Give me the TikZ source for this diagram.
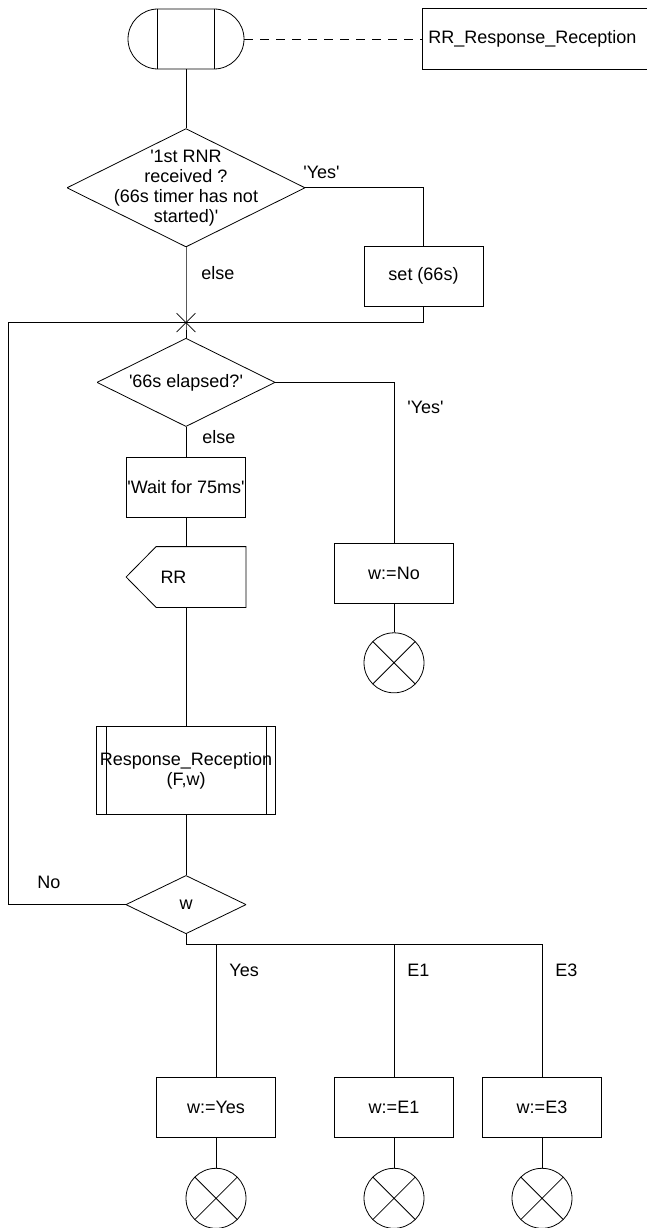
\documentclass[tikz,border=0pt]{standalone}
\usepackage{fontspec}
\setmainfont{Liberation Sans}
\usepackage{tikz}
\usetikzlibrary{positioning,shapes.misc}
\newcommand{\sq}{\textquotesingle}

\tikzset{
  startbox/.style={draw, rounded rectangle, minimum width=116pt, minimum height=60pt, inner sep=0},
  task/.style={draw, rectangle, minimum width=119pt, minimum height=60pt, inner sep=0, align=center},
  decision/.style={rectangle, inner sep=0, align=center,
    path picture={\draw (path picture bounding box.north) -- (path picture bounding box.east)
      -- (path picture bounding box.south) -- (path picture bounding box.west) -- cycle;}},
  stopnode/.style={draw, circle, minimum size=60pt, inner sep=0,
    path picture={\draw (path picture bounding box.north west) -- (path picture bounding box.south east)
      (path picture bounding box.north east) -- (path picture bounding box.south west);}},
  lbl/.style={anchor=west, inner sep=0},
}

\begin{document}
\begin{tikzpicture}[x=1pt, y=1pt, line width=0.8pt, font=\fontsize{18}{20}\selectfont]
  \useasboundingbox (0,0) rectangle (646,-1228);

  % start and procedure name
  \node[startbox] (start) at (186,-39) {};
  \draw ([xshift=-28.5pt]start.north) -- ([xshift=-28.5pt]start.south);
  \draw ([xshift=28.5pt]start.north) -- ([xshift=28.5pt]start.south);
  \node[anchor=west, minimum width=300pt, minimum height=60pt, text width=288pt,
        align=left, inner sep=6pt] (title) at (422,-39) {RR\_Response\_Reception};
  \draw (title.north east) -- (title.north west) -- (title.south west) -- (title.south east);
  \draw[dash pattern=on 9pt off 7pt] (start.east) -- (title.west);

  % main column
  \node[decision, minimum width=238pt, minimum height=118pt, below=59pt of start] (q1)
        {\sq 1st RNR\\received ?\\(66s timer has not\\started)\sq};
  \node[draw, cross out, minimum size=18pt, inner sep=0, below=66pt of q1] (j1) {};
  \node[decision, minimum width=178pt, minimum height=88pt, below=6pt of j1] (q2)
        {\sq 66s elapsed?\sq};
  \node[task, below=30pt of q2] (wait) {\sq Wait for 75ms\sq};
  \node[minimum width=119pt, minimum height=60pt, inner sep=0, text width=51pt,
        align=left, below=29pt of wait] (rr) {RR};
  \draw ([xshift=30pt]rr.north west) -- (rr.north east) -- (rr.south east)
        -- ([xshift=30pt]rr.south west) -- (rr.west) -- cycle;
  \node[task, minimum width=179pt, minimum height=88pt, below=119pt of rr] (proc)
        {Response\_Reception\\(F,w)};
  \draw ([xshift=10pt]proc.north west) -- ([xshift=10pt]proc.south west);
  \draw ([xshift=-10pt]proc.north east) -- ([xshift=-10pt]proc.south east);
  \node[decision, minimum width=120pt, minimum height=58pt, below=60pt of proc] (qw) {w};

  % side branches
  \node[task] (set) at (423.5,-276) {set (66s)};
  \node[task] (wno) at (394,-573) {w:=No};
  \node[stopnode, below=29pt of wno] (sno) {};

  % answers of w
  \node[task] (wyes) at (216,-1107.5) {w:=Yes};
  \node[task] (wone) at (394,-1107.5) {w:=E1};
  \node[task] (wthree) at (542,-1107.5) {w:=E3};
  \node[stopnode, below=30pt of wyes] (syes) {};
  \node[stopnode, below=30pt of wone] (sone) {};
  \node[stopnode, below=30pt of wthree] (sthree) {};

  \coordinate (lp) at (8,-321);
  \coordinate (br) at (186,-944);

  % flow lines
  \draw (start.south) -- (q1.north);
  \draw (q1.south) -- (j1.center) -- (q2.north);
  \draw (q1.east) -| (set.north);
  \draw (set.south) |- (j1.center);
  \draw (qw.west) -- (qw.west -| lp) |- (j1.center);
  \draw (q2.south) -- (wait.north);
  \draw (wait.south) -- (rr.north);
  \draw (rr.south) -- (proc.north);
  \draw (proc.south) -- (qw.north);
  \draw (q2.east) -| (wno.north);
  \draw (wno.south) -- (sno.north);
  \draw (qw.south) -- (br) -- (br -| wthree.north) -- (wthree.north);
  \draw (br -| wyes.north) -- (wyes.north);
  \draw (br -| wone.north) -- (wone.north);
  \draw (wyes.south) -- (syes.north);
  \draw (wone.south) -- (sone.north);
  \draw (wthree.south) -- (sthree.north);

  % labels
  \node[lbl] (lyesa) at (303,-172) {\sq Yes\sq};
  \node[lbl] (lelsea) at (201,-273) {else};
  \node[lbl] (lyesb) at (407,-407) {\sq Yes\sq};
  \node[lbl] (lelseb) at (202,-437) {else};
  \node[lbl] (lno) at (37,-882) {No};
  \node[lbl] (lyes) at (229,-970) {Yes};
  \node[lbl] (lone) at (407,-970) {E1};
  \node[lbl] (lthree) at (555,-970) {E3};
\end{tikzpicture}
\end{document}
